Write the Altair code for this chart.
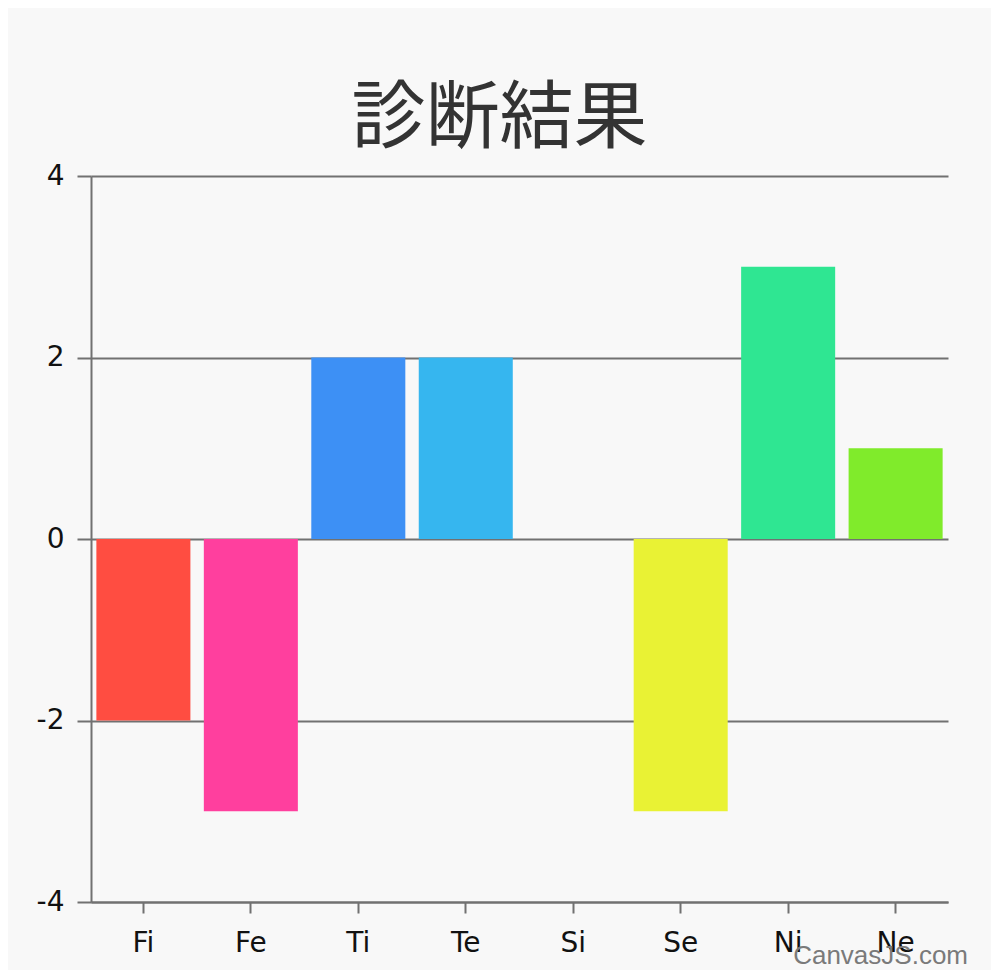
import altair as alt
import pandas as pd

categories = ["Fi", "Fe", "Ti", "Te", "Si", "Se", "Ni", "Ne"]
values = [-2, -3, 2, 2, 0, -3, 3, 1]
colors = ["#FF4D41", "#FF3F9E", "#3D90F5", "#36B6EF", "#A0A0A0", "#E9F234", "#2FE692", "#80EB2B"]

df = pd.DataFrame({"cat": categories, "val": values})

axis_color = "#717171"
label_font = "DejaVu Sans"

bars = alt.Chart(df).mark_bar(cornerRadius=0).encode(
    x=alt.X("cat:N", sort=categories, title=None,
            scale=alt.Scale(paddingInner=0.125, paddingOuter=0.05),
            axis=alt.Axis(labelAngle=0, labelFontSize=28, labelFont=label_font,
                          labelColor="#111111", labelPadding=16, tickSize=11,
                          tickWidth=2, tickColor=axis_color, domainColor=axis_color,
                          domainWidth=2, grid=False)),
    y=alt.Y("val:Q", title=None,
            scale=alt.Scale(domain=[-4, 4], nice=False),
            axis=alt.Axis(values=[-4, -2, 0, 2, 4], labelExpr="'' + datum.value",
                          labelFontSize=28, labelFont=label_font,
                          labelColor="#111111", labelPadding=13, tickSize=14,
                          tickWidth=2, tickColor=axis_color, domainColor=axis_color,
                          domainWidth=2, grid=True, gridColor=axis_color, gridWidth=2,
                          gridOpacity=1)),
    color=alt.Color("cat:N", sort=categories,
                    scale=alt.Scale(domain=categories, range=colors), legend=None),
)

credit = alt.Chart(pd.DataFrame({"t": ["CanvasJS.com"]})).mark_text(
    align="right", baseline="alphabetic", fontSize=26, font="Liberation Sans",
    color="#7a7a7a"
).encode(x=alt.value(877), y=alt.value(788), text="t:N")

chart = alt.layer(bars, credit).properties(
    width=857,
    height=726,
    title=alt.TitleParams("診断結果", font="Noto Sans CJK JP", fontSize=74,
                          fontWeight="normal", color="#333333", anchor="middle",
                          dx=-20, offset=4),
    background="#f8f8f8",
    padding={"left": 83, "top": 168, "right": 43, "bottom": 68},
    autosize=alt.AutoSizeParams(type="none"),
).configure_view(stroke=None)

chart.save("out.html", embed_options={"renderer": "svg", "actions": False})
